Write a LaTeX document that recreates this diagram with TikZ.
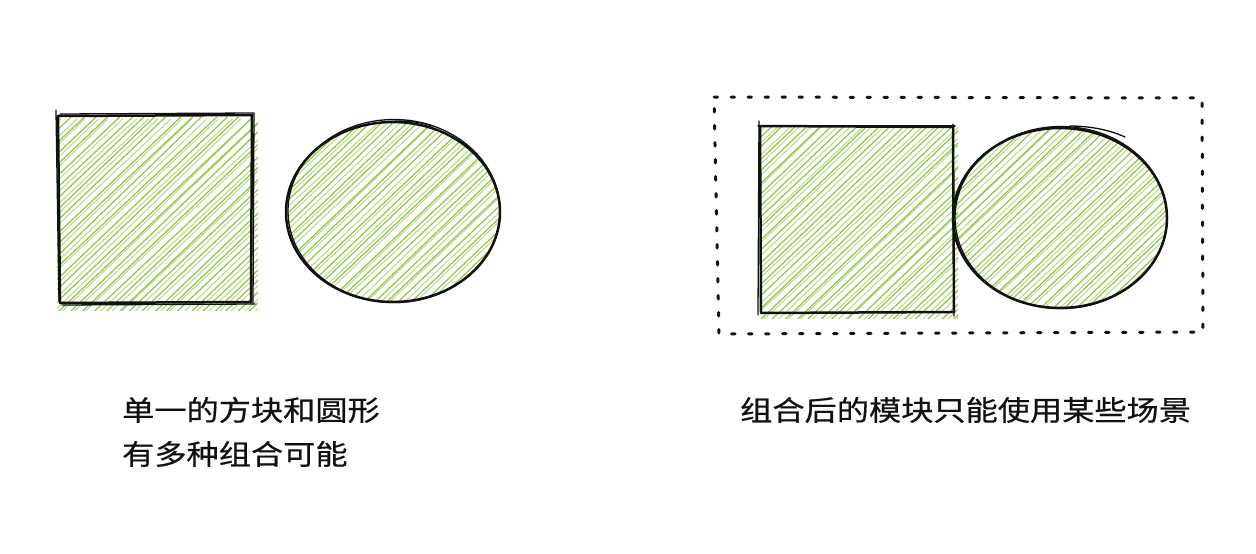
\documentclass[tikz,border=0pt]{standalone}
\usepackage{fontspec}
\newfontfamily\cjk[FakeBold=0.5]{Noto Sans CJK SC}
\definecolor{hatchgreen}{HTML}{8DC845}
\definecolor{inkblack}{HTML}{111111}
\tikzset{
  ink/.style={draw=inkblack, line width=2.5pt, line cap=round, line join=round},
  inkthin/.style={draw=inkblack, line width=1.3pt, line cap=round, line join=round},
  hatch/.style={draw=hatchgreen, line width=1.2pt, line cap=round},
  hatchb/.style={draw=hatchgreen, line width=0.9pt, line cap=round, opacity=0.7},
  dotbox/.style={draw=inkblack, line width=3pt, line cap=round, dash pattern=on 3.5pt off 13.5pt},
  label/.style={anchor=west, inner sep=0pt, text=inkblack, font=\cjk\fontsize{28pt}{28pt}\selectfont}
}
\begin{document}
\begin{tikzpicture}[x=1pt,y=-1pt]
\pgfmathsetseed{7}
\useasboundingbox[fill=white] (0,0) rectangle (1256,554);

% ---------- left square ----------
\begin{scope}
  \clip (57,116) rectangle (258,310);
  \foreach \a in {-204,-192,...,270} {
    \pgfmathsetmacro\ja{\a+2*rand}
    \pgfmathsetmacro\jb{\a+2*rand}
    \pgfmathsetmacro\jc{\a+3+3*rand}
    \pgfmathsetmacro\jd{\a+3+3*rand}
    \draw[hatch] ({\ja+58},312) -- ({\jb+58+205},117);
    \draw[hatchb] ({\jc+58},314) -- ({\jd+58+205},119);
  }
\end{scope}
\draw[ink] (58,116) -- (252,115) -- (251,302) -- (60,303) -- cycle;
\draw[inkthin] (56,110) -- (59,301);
\draw[inkthin] (60,114) -- (254,113) -- (253,304);
\draw[inkthin] (62,305) -- (255,304);

% ---------- left circle ----------
\begin{scope}
  \clip (393,212) ellipse [x radius=107, y radius=90];
  \foreach \a in {-228,-216,...,260} {
    \pgfmathsetmacro\ja{\a+2*rand}
    \pgfmathsetmacro\jb{\a+2*rand}
    \pgfmathsetmacro\jc{\a+3+3*rand}
    \pgfmathsetmacro\jd{\a+3+3*rand}
    \draw[hatch] ({\ja+286},306) -- ({\jb+286+205},111);
    \draw[hatchb] ({\jc+286},308) -- ({\jd+286+205},113);
  }
\end{scope}
\draw[ink] (393,212) ellipse [x radius=107, y radius=90];
\draw[inkthin] (394,211) ellipse [x radius=106, y radius=91.5];
\draw[inkthin] (385,122) .. controls (400,120) and (418,121) .. (432,126);

% ---------- dotted frame ----------
\draw[dotbox] (714,97) -- (1202,98) -- (1203,332) -- (719,334) -- cycle;

% ---------- right square ----------
\begin{scope}
  \clip (760,127) rectangle (958,318);
  \foreach \a in {-204,-192,...,270} {
    \pgfmathsetmacro\ja{\a+2*rand}
    \pgfmathsetmacro\jb{\a+2*rand}
    \pgfmathsetmacro\jc{\a+3+3*rand}
    \pgfmathsetmacro\jd{\a+3+3*rand}
    \draw[hatch] ({\ja+760},320) -- ({\jb+760+205},125);
    \draw[hatchb] ({\jc+760},322) -- ({\jd+760+205},127);
  }
\end{scope}
\draw[ink] (760,126) -- (953,127) -- (954,312) -- (761,313) -- cycle;
\draw[inkthin] (759,121) -- (758,315);
\draw[inkthin] (758,126) -- (955,126);
\draw[inkthin] (953,124) -- (954,316);

% ---------- right circle ----------
\begin{scope}
  \clip (1060,218) ellipse [x radius=107, y radius=90];
  \foreach \a in {-228,-216,...,260} {
    \pgfmathsetmacro\ja{\a+2*rand}
    \pgfmathsetmacro\jb{\a+2*rand}
    \pgfmathsetmacro\jc{\a+3+3*rand}
    \pgfmathsetmacro\jd{\a+3+3*rand}
    \draw[hatch] ({\ja+952},312) -- ({\jb+952+205},117);
    \draw[hatchb] ({\jc+952},314) -- ({\jd+952+205},119);
  }
\end{scope}
\draw[ink] (1060,218) ellipse [x radius=107, y radius=90];
\draw[inkthin] (1061,217.5) ellipse [x radius=106, y radius=91];
\draw[inkthin] (1070,126) .. controls (1090,126) and (1110,130) .. (1125,137);

% ---------- labels ----------
\node[label] (t1) at (122,410) {\scalebox{1.15}[1]{单一的方块和圆形}};
\node[label] (t2) at (122,454) {\scalebox{1.15}[1]{有多种组合可能}};
\node[label] (t3) at (740,410) {\scalebox{1.15}[1]{组合后的模块只能使用某些场景}};
\end{tikzpicture}
\end{document}
